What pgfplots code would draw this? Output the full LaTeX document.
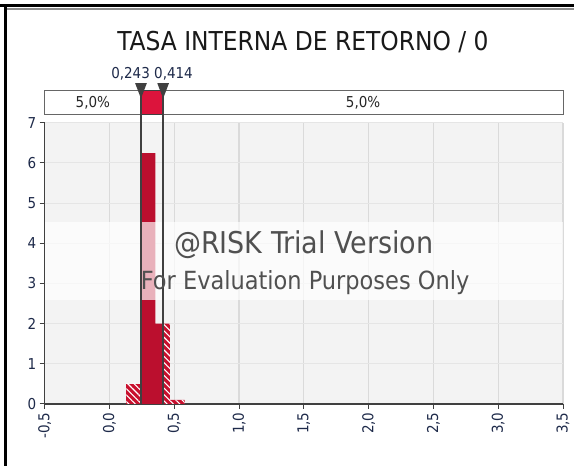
\documentclass[border=0pt]{standalone}
\usepackage{fontspec}
\setmainfont{DejaVu Sans Condensed}
\usepackage{pgfplots}
\pgfplotsset{compat=1.18}
\usetikzlibrary{patterns.meta}
\definecolor{barred}{HTML}{BB0F2E}
\definecolor{hatchred}{HTML}{C8102E}
\definecolor{bandred}{HTML}{DC143C}
\definecolor{plotbg}{HTML}{F3F3F3}
\definecolor{gridc}{HTML}{DADADA}
\definecolor{axc}{HTML}{404040}
\definecolor{tickc}{HTML}{1E2A4A}
\definecolor{wmc}{HTML}{505050}
\begin{document}
\begin{tikzpicture}[x=1pt,y=1pt]
\fill[white] (0,0) rectangle (574,466);
\useasboundingbox (0,0) rectangle (574,466);
\draw[black, line width=2.5pt] (0,460.5) -- (574,460.5);
\draw[black!45, line width=2pt] (7,457) -- (574,457);
\draw[black, line width=2.5pt] (5.5,0) -- (5.5,461);
\node[font=\fontsize{26}{30}\selectfont, text=black!90] at (303,424) {TASA INTERNA DE RETORNO / 0};
\begin{axis}[
  at={(44.7pt,62pt)}, anchor=south west,
  scale only axis, width=518.3pt, height=281.4pt,
  xmin=-0.5, xmax=3.5, ymin=0, ymax=7,
  axis x line*=bottom, axis y line*=left,
  axis line style={-, draw=axc, line width=1.2pt},
  axis background/.style={fill=plotbg},
  clip=false,
  xtick={-0.5,0,0.5,1,1.5,2,2.5,3,3.5},
  xticklabels={{-0,5},{0,0},{0,5},{1,0},{1,5},{2,0},{2,5},{3,0},{3,5}},
  ytick={0,1,2,3,4,5,6,7},
  yticklabels={0,1,2,3,4,5,6,7},
  tick align=outside, major tick length=5pt,
  tick style={draw=axc, line width=1pt},
  x tick label style={rotate=90, anchor=east, font=\fontsize{15}{17}\selectfont, text=tickc},
  y tick label style={font=\fontsize{15}{17}\selectfont, text=tickc},
  grid=major,
  x grid style={draw=gridc, line width=1.2pt},
  y grid style={draw=gridc!70, line width=1pt},
]
% hatched bars (outside delimiters)
\addplot[ybar interval, draw=none, fill=hatchred,
  postaction={pattern={Lines[angle=-45,distance=4.5pt,line width=1.1pt]}, pattern color=white}]
  coordinates {(0.13,0.5) (0.243,0.5)};
\addplot[ybar interval, draw=none, fill=hatchred,
  postaction={pattern={Lines[angle=-45,distance=4.5pt,line width=1.1pt]}, pattern color=white}]
  coordinates {(0.414,2.0) (0.467,0.1) (0.58,0.1)};
% solid bars (inside delimiters)
\addplot[ybar interval, draw=none, fill=barred]
  coordinates {(0.243,6.24) (0.355,2.0) (0.414,2.0)};
% watermark band
\fill[white, opacity=0.68] (axis cs:-0.5,2.59) rectangle (axis cs:3.5,4.53);
% delimiter band
\draw[fill=white, draw=black!60, line width=1pt] (axis cs:-0.5,7.19) rectangle (axis cs:3.5,7.79);
\draw[fill=bandred, draw=axc, line width=1pt] (axis cs:0.243,7.19) rectangle (axis cs:0.414,7.79);
\addplot[axc, line width=1.3pt] coordinates {(0.243,0) (0.243,7.79)};
\addplot[axc, line width=1.3pt] coordinates {(0.414,0) (0.414,7.79)};
\fill[axc] (axis cs:0.198,7.98) -- (axis cs:0.288,7.98) -- (axis cs:0.243,7.6) -- cycle;
\fill[axc] (axis cs:0.369,7.98) -- (axis cs:0.459,7.98) -- (axis cs:0.414,7.6) -- cycle;
\node[font=\fontsize{15}{17}\selectfont, text=black!85] at (axis cs:-0.1285,7.49) {5,0\%};
\node[font=\fontsize{15}{17}\selectfont, text=black!85] at (axis cs:1.957,7.49) {5,0\%};
\node[font=\fontsize{15}{17}\selectfont, text=tickc, anchor=base] at (axis cs:0.3285,8.1) {0,243 0,414};
% watermark text
\node[font=\fontsize{30}{34}\selectfont, text=wmc] at (axis cs:1.50,3.96) {@RISK Trial Version};
\node[font=\fontsize{25}{30}\selectfont, text=wmc] at (axis cs:1.51,3.03) {For Evaluation Purposes Only};
\end{axis}
\end{tikzpicture}
\end{document}
